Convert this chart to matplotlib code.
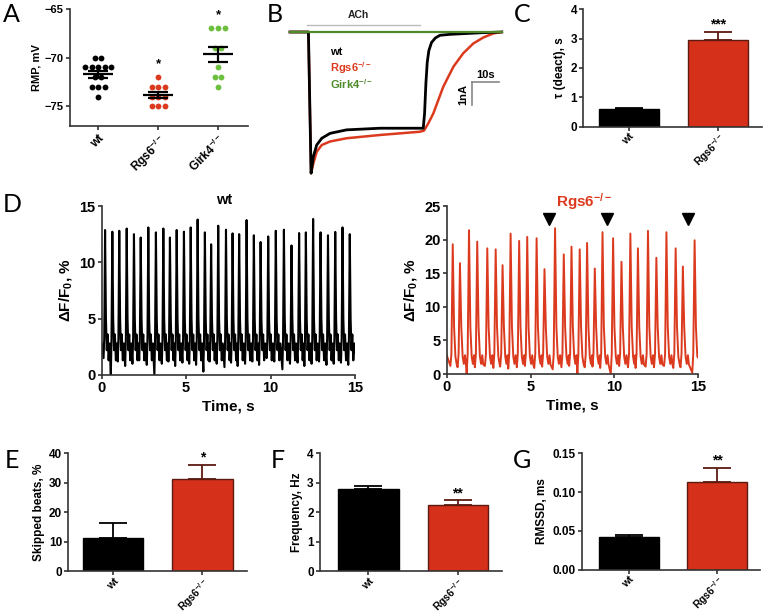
import numpy as np
import matplotlib
matplotlib.use('Agg')
import matplotlib.pyplot as plt

plt.rcParams['font.family'] = ['Liberation Sans', 'DejaVu Sans']
plt.rcParams['font.weight'] = 'bold'
plt.rcParams['axes.labelweight'] = 'bold'
plt.rcParams['axes.titleweight'] = 'bold'
plt.rcParams['mathtext.fontset'] = 'custom'
plt.rcParams['mathtext.rm'] = 'Liberation Sans:bold'
plt.rcParams['mathtext.it'] = 'Liberation Sans:bold'
plt.rcParams['mathtext.bf'] = 'Liberation Sans:bold'
plt.rcParams['mathtext.default'] = 'regular'

# ---------------- data ----------------
# Panel A: resting membrane potential (mV)
rmp_groups = ['wt', 'Rgs6$^{-/-}$', 'Girk4$^{-/-}$']
rmp_wt = [-70, -70, -71, -71, -71, -71, -71, -72, -72, -73, -73, -73, -74]
rmp_rgs6 = [-72, -73, -73, -73, -74, -74, -74, -75, -75, -75]
rmp_girk4 = [-67, -67, -67, -69, -69, -71, -72, -72, -73]
rmp_sig = ['', '*', '*']

# Panel B: ACh-induced current traces (time s, current nA)
ich_t_wt = [0, 6.9, 7.9, 8.74, 10.0, 11.9, 15.0, 21.2, 33.7, 46.2, 49.9,
            50.4, 50.9, 51.4, 52.0, 53.0, 54.5, 56.2, 60.0, 65.0, 72.0, 79.3]
ich_wt = [0, 0, -6.06, -5.35, -4.85, -4.56, -4.35, -4.2, -4.13, -4.13, -4.13,
          -3.5, -2.2, -1.3, -0.8, -0.45, -0.25, -0.14, -0.1, -0.07, -0.03, 0]
ich_t_rgs6 = [0, 6.9, 7.9, 8.74, 10.0, 11.9, 15.0, 21.2, 33.7, 48.7, 50.2,
              51.8, 53.7, 57.4, 61.2, 64.9, 68.7, 72.5, 76.2, 79.3]
ich_rgs6 = [0, 0, -6.06, -5.64, -5.14, -4.85, -4.7, -4.56, -4.42, -4.28, -4.23,
            -3.92, -3.49, -2.35, -1.49, -0.91, -0.49, -0.23, -0.06, 0]
ich_t_girk4 = [0, 79.3]
ich_girk4 = [0, 0]

# Panel C: deactivation time constant (s)
tau_groups = ['wt', 'Rgs6$^{-/-}$']
tau_mean = [0.6, 2.95]
tau_sem = [0.03, 0.27]
tau_sig = ['', '***']

# Panel D: calcium transients (peak times s, peak dF/F0 %, preceding trough %)
wt_peak_t = [0.20, 0.63, 1.04, 1.48, 1.91, 2.31, 2.76, 3.21, 3.65, 4.04, 4.44, 4.87,
             5.27, 5.68, 6.11, 6.48, 6.90, 7.36, 7.75, 8.14, 8.58, 9.01, 9.41, 9.86,
             10.31, 10.79, 11.24, 11.69, 12.09, 12.52, 12.96, 13.40, 13.83, 14.26, 14.69]
wt_peak_v = [12.87, 12.72, 12.8, 13.0, 12.5, 12.2, 13.1, 12.66, 13.0, 12.2, 12.87, 12.72,
             13.1, 13.8, 12.66, 11.6, 13.25, 12.9, 12.57, 12.5, 13.75, 12.4, 11.8, 12.3,
             12.8, 12.9, 11.5, 12.6, 12.66, 13.85, 12.66, 12.4, 12.7, 13.1, 12.5]
wt_trough_v = [1.5, 0.0, 1.2, 0.8, 1.0, 1.3, 0.9, 0.0, 1.0, 1.2, 0.8, 1.1,
               1.0, 0.9, 0.3, 1.2, 1.0, 0.7, 1.1, 0.8, 1.0, 1.2, 0.9, 1.5,
               1.2, 0.5, 1.0, 1.1, 0.8, 1.0, 1.2, 0.9, 1.0, 1.1, 0.9]
rgs6_peak_t = [0.36, 0.79, 1.33, 1.82, 2.42, 2.92, 3.33, 3.81, 4.32, 4.80, 5.36, 5.83,
               6.46, 6.98, 7.44, 7.93, 8.37, 8.83, 9.29, 9.92, 10.42, 10.95, 11.40,
               12.00, 12.50, 13.10, 13.65, 14.08, 14.78]
rgs6_peak_v = [19.3, 16.5, 21.4, 19.7, 18.7, 18.55, 16.2, 20.9, 19.8, 20.4, 20.2, 15.6,
               21.7, 17.8, 18.95, 18.55, 19.5, 15.7, 21.1, 20.2, 16.7, 20.9, 18.7,
               21.3, 17.3, 21.1, 18.7, 16.0, 19.9]
rgs6_trough_v = [1.2, 1.0, 0.0, 1.0, 1.2, 0.9, 1.1, 0.8, 1.0, 1.2, 0.9, 1.1,
                 0.7, 1.0, 1.2, 0.0, 1.0, 1.1, 0.9, 0.0, 1.2, 1.0, 0.9,
                 1.1, 1.0, 1.2, 0.9, 1.0, 0.2]
rgs6_skip_t = [6.1, 9.58, 14.38]

# Panels E-G
bar_groups = ['wt', 'Rgs6$^{-/-}$']
skip_mean = [11.3, 31.4]
skip_sem = [4.9, 4.7]
skip_sig = ['', '*']
freq_mean = [2.79, 2.24]
freq_sem = [0.09, 0.16]
freq_sig = ['', '**']
rmssd_mean = [0.042, 0.113]
rmssd_sem = [0.0025, 0.0185]
rmssd_sig = ['', '**']

# ---------------- style ----------------
RED = '#D4301A'
RED_EDGE = '#5C1A10'
RED_LINE = '#DC3A1E'
GREEN_DOT = '#6CBF3F'
GREEN_TXT = '#4E8A2A'
SPINE = '#333333'

W, H = 767, 614
fig = plt.figure(figsize=(W / 100, H / 100), dpi=100)


def px_axes(x0, y0, x1, y1):
    return fig.add_axes([x0 / W, 1 - y1 / H, (x1 - x0) / W, (y1 - y0) / H])


def style(ax, labelsize):
    for s in ['top', 'right']:
        ax.spines[s].set_visible(False)
    for s in ['left', 'bottom']:
        ax.spines[s].set_linewidth(1.2)
        ax.spines[s].set_color(SPINE)
    ax.tick_params(direction='out', length=3, width=1.2, color=SPINE,
                   labelsize=labelsize, pad=1.5)


def panel_letter(x, y, s):
    fig.text(x / W, 1 - y / H, s, fontsize=18, fontweight='normal',
             family=['Lato', 'DejaVu Sans'], ha='left', va='top')


# ---------------- Panel A ----------------
axA = px_axes(70, 8.7, 248, 126)
style(axA, 8)
groups = [rmp_wt, rmp_rgs6, rmp_girk4]
dot_colors = ['black', RED_LINE, GREEN_DOT]
for i, vals in enumerate(groups):
    vals = np.array(vals, dtype=float)
    offs = np.zeros(len(vals))
    for v in np.unique(vals):
        idx = np.where(vals == v)[0]
        n = len(idx)
        offs[idx] = (np.arange(n) - (n - 1) / 2) * 0.11
    axA.plot(i + offs, vals, 'o', ms=4.2, color=dot_colors[i], mec='none', zorder=2)
    m = vals.mean()
    se = vals.std(ddof=1) / np.sqrt(len(vals))
    axA.hlines(m, i - 0.25, i + 0.25, color='black', lw=1.6, zorder=3)
    axA.hlines([m - se, m + se], i - 0.17, i + 0.17, color='black', lw=1.6, zorder=3)
    axA.vlines(i, m - se, m + se, color='black', lw=1.6, zorder=3)
    if rmp_sig[i]:
        axA.text(i, vals.max() + 0.7, rmp_sig[i], ha='center', va='bottom', fontsize=9.5)
axA.set_xlim(-0.47, 2.5)
axA.set_ylim(-77, -65)
axA.set_yticks([-75, -70, -65])
axA.set_xticks([0, 1, 2])
axA.set_xticklabels(rmp_groups, rotation=45, ha='right', rotation_mode='anchor',
                    fontsize=8.5)
axA.set_ylabel('RMP, mV', fontsize=8, labelpad=2)

# ---------------- Panel B ----------------
axB = px_axes(285, 0, 510, 180)
axB.set_xlim((285 - 290) / 2.67, (510 - 290) / 2.67)
axB.set_ylim(-(180 - 32) / 23.3, 32 / 23.3)
axB.axis('off')
axB.plot(ich_t_rgs6, ich_rgs6, color=RED_LINE, lw=1.8, solid_joinstyle='round')
axB.plot(ich_t_wt, ich_wt, color='black', lw=2.0, solid_joinstyle='round')
axB.plot(ich_t_girk4, ich_girk4, color=GREEN_TXT, lw=1.6)
axB.plot([6.37, 48.7], [0.30, 0.30], color='#BBBBBB', lw=1)
axB.text(25.5, 0.73, 'ACh', ha='center', va='center', fontsize=7.5, color='#222222')
axB.text(15, -0.845, 'wt', ha='left', va='center', fontsize=8, color='black')
axB.text(15, -1.56, 'Rgs6$^{-/-}$', ha='left', va='center', fontsize=8, color=RED_LINE)
axB.text(15, -2.25, 'Girk4$^{-/-}$', ha='left', va='center', fontsize=8, color=GREEN_TXT)
axB.plot([68.2, 78.2], [-2.13, -2.13], color='#888888', lw=1.2)
axB.plot([68.2, 68.2], [-2.13, -3.13], color='#888888', lw=1.2)
axB.text(73.2, -1.85, '10s', ha='center', va='center', fontsize=8)
axB.text(64.8, -2.7, '1nA', ha='center', va='center', fontsize=8, rotation=90)


# ---------------- bar panels ----------------
def bar_panel(box, means, sems, sig, ylim, yticks, yticklabels, ylabel, xlim, star_off):
    ax = px_axes(*box)
    style(ax, 8.5)
    ax.tick_params(axis='x', pad=0.5)
    x = np.arange(len(means))
    fills = ['black', RED]
    edges = ['black', RED_EDGE]
    for i in x:
        ax.errorbar(i, means[i], yerr=[[0], [sems[i]]], fmt='none', ecolor=edges[i],
                    elinewidth=1.3, capsize=10, capthick=1.3, zorder=1)
        ax.bar(i, means[i], width=0.675, color=fills[i], edgecolor=edges[i],
               linewidth=1.0, zorder=2)
        if sig[i]:
            ax.text(i, means[i] + sems[i] + star_off, sig[i], ha='center', va='bottom',
                    fontsize=10)
    ax.set_xlim(*xlim)
    ax.set_ylim(*ylim)
    ax.set_yticks(yticks)
    ax.set_yticklabels(yticklabels)
    ax.set_xticks(x)
    ax.set_xticklabels(bar_groups, rotation=45, ha='right', rotation_mode='anchor',
                       fontsize=7.5)
    ax.set_ylabel(ylabel, fontsize=8.5, labelpad=3)
    return ax


bar_panel((583.3, 9.3, 761.7, 126.7), tau_mean, tau_sem, tau_sig, (0, 4),
          [0, 1, 2, 3, 4], ['0', '1', '2', '3', '4'], 'τ (deact), s', (-0.51, 1.49), 0.02)
bar_panel((68.3, 453.3, 246.7, 571), skip_mean, skip_sem, skip_sig, (0, 40),
          [0, 10, 20, 30, 40], ['0', '10', '20', '30', '40'], 'Skipped beats, %',
          (-0.505, 1.496), 0.1)
bar_panel((320, 453.3, 501.7, 571), freq_mean, freq_sem, freq_sig, (0, 4),
          [0, 1, 2, 3, 4], ['0', '1', '2', '3', '4'], 'Frequency, Hz', (-0.54, 1.49), 0.01)
bar_panel((581.7, 453.3, 760, 569.5), rmssd_mean, rmssd_sem, rmssd_sig, (0, 0.15),
          [0, 0.05, 0.10, 0.15], ['0.00', '0.05', '0.10', '0.15'], 'RMSSD, ms',
          (-0.53, 1.48), 0.0003)


# ---------------- Panel D ----------------
def beat_polyline(peak_t, peak_v, trough_v, rel_t, rel_v, start_v, end_t, end_v):
    ts, vs = [0.0], [start_v]
    n = len(peak_t)
    for k, (t, p, tr) in enumerate(zip(peak_t, peak_v, trough_v)):
        limit = peak_t[k + 1] + rel_t[0] - 0.01 if k + 1 < n else end_t
        for dt, v in zip(rel_t, rel_v):
            if v == 'T':
                val = tr
            elif v == 'P':
                val = p
            else:
                val = v
            tt = t + dt
            if ts[-1] < tt <= limit and 0 <= tt <= end_t:
                ts.append(tt)
                vs.append(val)
    ts.append(end_t)
    vs.append(end_v)
    return ts, vs


wt_shape_t = [-0.09, -0.05, 0.0, 0.05, 0.10, 0.15, 0.21, 0.27]
wt_shape_v = ['T', 3.2, 'P', 5.0, 2.2, 3.6, 1.3, 2.8]
rg_shape_t = [-0.14, -0.08, 0.0, 0.08, 0.16, 0.23, 0.30, 0.36]
rg_shape_v = ['T', 3.0, 'P', 7.0, 2.6, 1.5, 2.8, 1.4]

axD1 = px_axes(101.7, 206, 355, 375)
style(axD1, 10.5)
tw, vw = beat_polyline(wt_peak_t, wt_peak_v, wt_trough_v, wt_shape_t, wt_shape_v,
                       2.8, 15.0, 2.0)
axD1.plot(tw, vw, color='black', lw=1.5, solid_joinstyle='round')
axD1.set_xlim(0, 15)
axD1.set_ylim(0, 15)
axD1.set_xticks([0, 5, 10, 15])
axD1.set_yticks([0, 5, 10, 15])
axD1.set_xlabel('Time, s', fontsize=11, labelpad=3)
axD1.set_ylabel('ΔF/F$_0$, %', fontsize=11, labelpad=4)
axD1.text(7.25, 15.5, 'wt', ha='center', va='center', fontsize=10.5)

axD2 = px_axes(446.7, 206, 698.3, 374)
style(axD2, 10.5)
tr_, vr_ = beat_polyline(rgs6_peak_t, rgs6_peak_v, rgs6_trough_v, rg_shape_t, rg_shape_v,
                         2.8, 15.0, 2.4)
axD2.plot(tr_, vr_, color=RED_LINE, lw=1.4, solid_joinstyle='round')
axD2.plot(rgs6_skip_t, [23] * len(rgs6_skip_t), 'v', ms=8, color='black',
          clip_on=False)
axD2.set_xlim(0, 15)
axD2.set_ylim(0, 25)
axD2.set_xticks([0, 5, 10, 15])
axD2.set_yticks([0, 5, 10, 15, 20, 25])
axD2.set_xlabel('Time, s', fontsize=11, labelpad=3)
axD2.set_ylabel('ΔF/F$_0$, %', fontsize=11, labelpad=4)
axD2.text(8.2, 25.67, 'Rgs6$^{-/-}$', ha='center', va='center', fontsize=11,
          color=RED_LINE)

# ---------------- panel letters ----------------
panel_letter(3, 3, 'A')
panel_letter(267, 3, 'B')
panel_letter(514, 3, 'C')
panel_letter(3, 193, 'D')
panel_letter(5, 449, 'E')
panel_letter(271, 449, 'F')
panel_letter(513, 449, 'G')

fig.savefig('out.png', dpi=100)
